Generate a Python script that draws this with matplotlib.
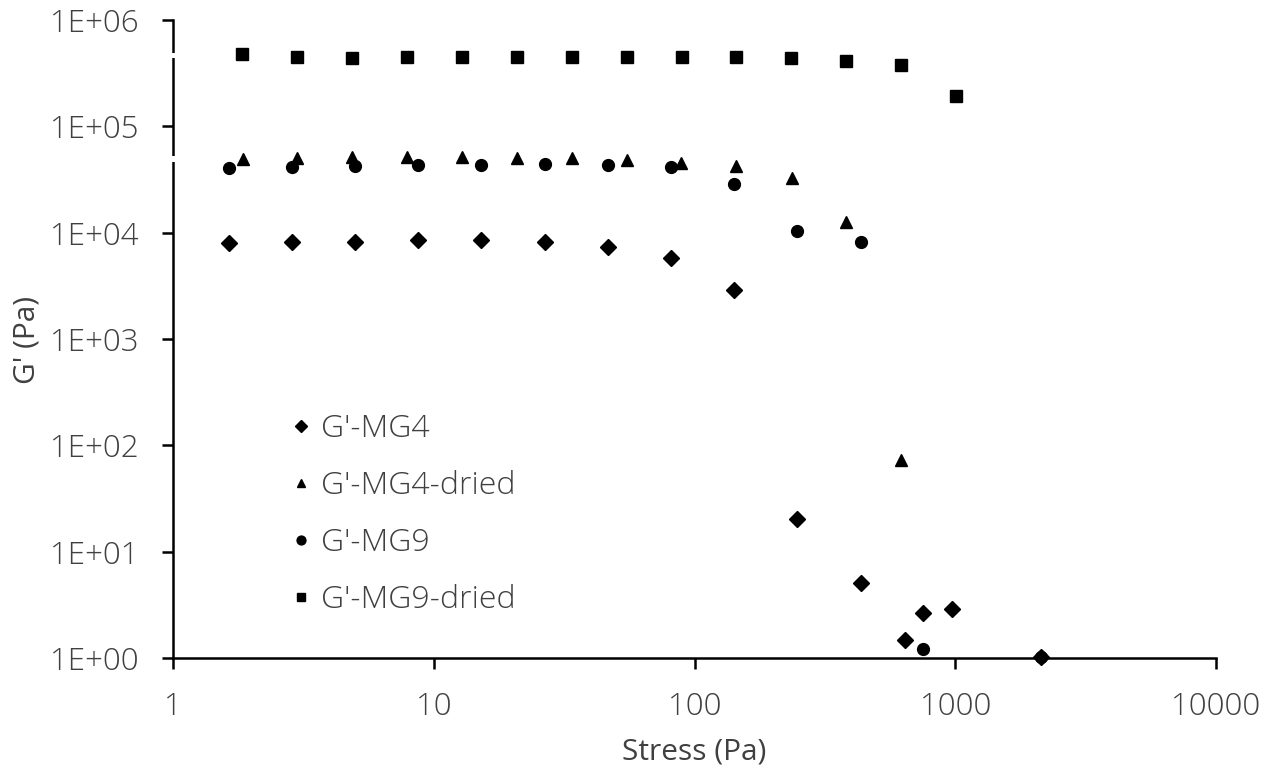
import matplotlib
matplotlib.use("Agg")
import matplotlib.pyplot as plt
import matplotlib.transforms as mtransforms

# ---- data ----
mg4_x = [1.64, 2.86, 4.99, 8.70, 15.2, 26.7, 46.6, 81.3, 142, 247, 435, 642, 752, 972, 2133]
mg4_y = [8.0e3, 8.2e3, 8.2e3, 8.5e3, 8.5e3, 8.2e3, 7.3e3, 5.8e3, 2.9e3, 20.3, 5.07, 1.48, 2.65, 2.89, 1.02]

mg4d_x = [1.86, 2.99, 4.86, 7.90, 12.8, 20.9, 33.9, 55.1, 88.8, 144, 237, 381, 620]
mg4d_y = [4.9e4, 5.0e4, 5.1e4, 5.1e4, 5.1e4, 5.0e4, 5.0e4, 4.8e4, 4.5e4, 4.2e4, 3.3e4, 1.26e4, 73]

mg9_x = [1.64, 2.86, 4.99, 8.70, 15.2, 26.7, 46.6, 81.3, 142, 247, 435, 752, 2133]
mg9_y = [4.06e4, 4.15e4, 4.25e4, 4.34e4, 4.34e4, 4.44e4, 4.34e4, 4.15e4, 2.87e4, 1.04e4, 8.2e3, 1.22, 1.02]

mg9d_x = [1.84, 2.99, 4.86, 7.90, 12.8, 20.9, 33.9, 55.1, 89.5, 144, 234, 381, 620, 1006]
mg9d_y = [4.79e5, 4.49e5, 4.39e5, 4.49e5, 4.49e5, 4.49e5, 4.49e5, 4.49e5, 4.49e5, 4.49e5, 4.39e5, 4.15e5, 3.78e5, 1.93e5]

labels = ["G'-MG4", "G'-MG4-dried", "G'-MG9", "G'-MG9-dried"]
x_ticks = [1, 10, 100, 1000, 10000]
x_tick_labels = ["1", "10", "100", "1000", "10000"]
y_ticks = [1e0, 1e1, 1e2, 1e3, 1e4, 1e5, 1e6]
y_tick_labels = ["1E+00", "1E+01", "1E+02", "1E+03", "1E+04", "1E+05", "1E+06"]

plt.rcParams['font.family'] = ['Open Sans', 'DejaVu Sans']
plt.rcParams['font.weight'] = 'light'
txt = '#404040'
fs = 22.5

fig = plt.figure(figsize=(12.7, 7.74), dpi=100)
ax = fig.add_axes([173/1270, 1-658/774, (1216-173)/1270, (658-20)/774])
ax.set_xscale('log')
ax.set_yscale('log')
ax.set_xlim(1, 10000)
ax.set_ylim(1, 1e6)

ax.plot(mg4_x, mg4_y, linestyle='none', marker='D', ms=8.0, color='black', label=labels[0], clip_on=False, zorder=3)
ax.plot(mg4d_x, mg4d_y, linestyle='none', marker='^', ms=8.5, color='black', label=labels[1], clip_on=False, zorder=3)
ax.plot(mg9_x, mg9_y, linestyle='none', marker='o', ms=8.5, color='black', label=labels[2], clip_on=False, zorder=3)
ax.plot(mg9d_x, mg9d_y, linestyle='none', marker='s', ms=8.5, color='black', label=labels[3], clip_on=False, zorder=3)

for s in ['top', 'right']:
    ax.spines[s].set_visible(False)
for s in ['left', 'bottom']:
    ax.spines[s].set_linewidth(1.8)
    ax.spines[s].set_color('black')

ax.set_xticks(x_ticks)
ax.set_xticklabels(x_tick_labels)
ax.set_yticks(y_ticks)
ax.set_yticklabels(y_tick_labels)
ax.minorticks_off()
ax.tick_params(axis='both', direction='out', length=8, width=1.8, color='black',
               labelsize=fs, labelcolor=txt)
ax.tick_params(axis='x', pad=16)
ax.tick_params(axis='y', pad=17)

# small gaps in the vertical axis line
trans = mtransforms.blended_transform_factory(ax.transAxes, ax.transData)
for y1, y2 in [(4.4e5, 4.9e5), (4.63e4, 5.26e4)]:
    ax.plot([0, 0], [y1, y2], color='white', lw=4, transform=trans, clip_on=False, zorder=5,
            solid_capstyle='butt')

ax.set_xlabel('Stress (Pa)', fontsize=fs - 1, color=txt, labelpad=10)
ax.set_ylabel("G' (Pa)", fontsize=fs - 1, color=txt)
ax.yaxis.set_label_coords(-0.126, 0.498)

leg = ax.legend(loc='upper left', bbox_to_anchor=(275/1270, 1-397/774), bbox_transform=fig.transFigure,
                frameon=False, fontsize=23, markerscale=0.75, handlelength=0.6, handletextpad=0.35,
                labelspacing=0.78, borderpad=0)
for t in leg.get_texts():
    t.set_color(txt)

fig.savefig('out.png', dpi=100)
